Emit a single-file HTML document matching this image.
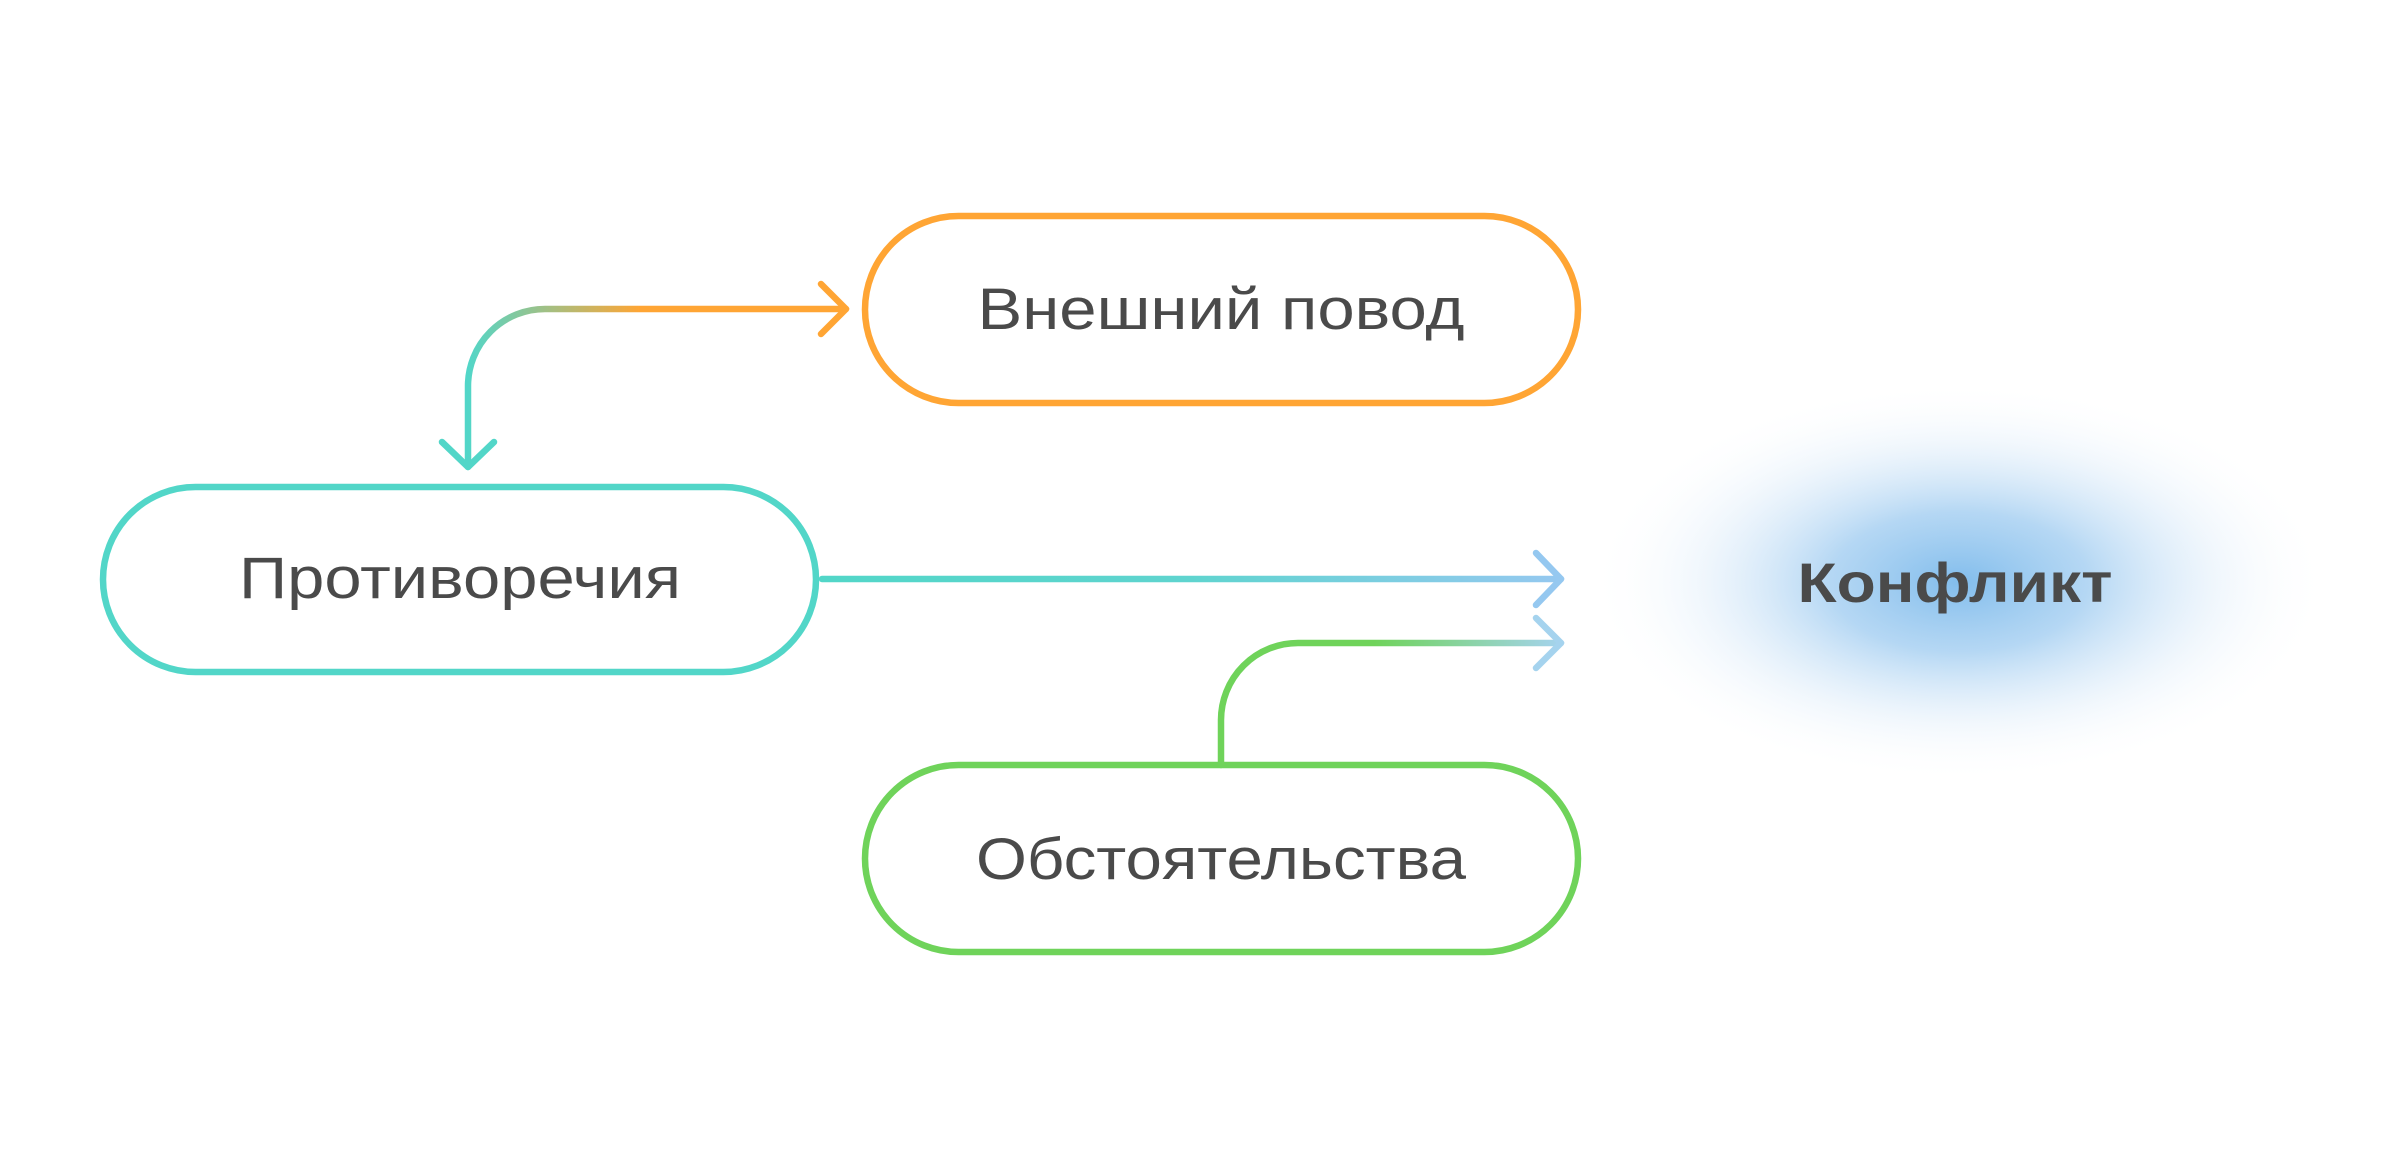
<!DOCTYPE html>
<html><head><meta charset="utf-8"><style>
html,body{margin:0;padding:0;background:#fff;}
svg{display:block;}
text{font-family:"Liberation Sans","DejaVu Sans",sans-serif;fill:#4a4a4a;}
</style></head><body>
<svg width="2400" height="1169" viewBox="0 0 2400 1169" xmlns="http://www.w3.org/2000/svg">
<defs>
<radialGradient id="glow" cx="50%" cy="50%" r="50%">
<stop offset="0" stop-color="#82bdec" stop-opacity="1"/>
<stop offset="0.35" stop-color="#9ccaf0" stop-opacity="0.75"/>
<stop offset="0.7" stop-color="#cfe4f7" stop-opacity="0.3"/>
<stop offset="1" stop-color="#ffffff" stop-opacity="0"/>
</radialGradient>
<linearGradient id="g1" x1="468" y1="0" x2="640" y2="0" gradientUnits="userSpaceOnUse">
<stop offset="0" stop-color="#52d6c8"/><stop offset="1" stop-color="#ffa534"/>
</linearGradient>
<linearGradient id="g2" x1="822" y1="0" x2="1561" y2="0" gradientUnits="userSpaceOnUse">
<stop offset="0" stop-color="#52d6c8"/><stop offset="0.5" stop-color="#5fd4cf"/><stop offset="1" stop-color="#95c8f0"/>
</linearGradient>
<linearGradient id="g3" x1="1221" y1="0" x2="1561" y2="0" gradientUnits="userSpaceOnUse">
<stop offset="0" stop-color="#6fd35a"/><stop offset="0.45" stop-color="#6fd35a"/><stop offset="1" stop-color="#a5d3ee"/>
</linearGradient>
</defs>
<ellipse cx="1959" cy="582" rx="370" ry="200" fill="url(#glow)"/>
<g fill="none" stroke-width="6.5" stroke-linecap="round" stroke-linejoin="round">
<rect x="865" y="216" width="713" height="187" rx="93.5" stroke="#ffa534"/>
<rect x="103" y="487" width="713" height="185" rx="92.5" stroke="#52d6c8"/>
<rect x="865" y="765" width="713" height="187" rx="93.5" stroke="#6fd35a"/>
<path d="M468 467 V386 A77 77 0 0 1 545 309 H846" stroke="url(#g1)"/>
<path d="M442 442 L468 467 L494 442" stroke="#52d6c8"/>
<path d="M821 284 L846 309 L821 334" stroke="#ffa534"/>
<path d="M822 579 H1561" stroke="url(#g2)"/>
<path d="M1536 553 L1561 579 L1536 605" stroke="#95c8f0"/>
<path d="M1221 765 V720 A77 77 0 0 1 1298 643 H1561" stroke="url(#g3)"/>
<path d="M1536 618 L1561 643 L1536 668" stroke="#a5d3ee"/>
</g>
<text x="1221" y="329" font-size="58" text-anchor="middle" textLength="487" lengthAdjust="spacingAndGlyphs">Внешний повод</text>
<text x="460" y="598" font-size="58" text-anchor="middle" textLength="442" lengthAdjust="spacingAndGlyphs">Противоречия</text>
<text x="1221" y="879" font-size="58" text-anchor="middle" textLength="490" lengthAdjust="spacingAndGlyphs">Обстоятельства</text>
<text x="1955" y="602" font-size="56" font-weight="bold" text-anchor="middle" textLength="315" lengthAdjust="spacingAndGlyphs">Конфликт</text>
</svg>
</body></html>
